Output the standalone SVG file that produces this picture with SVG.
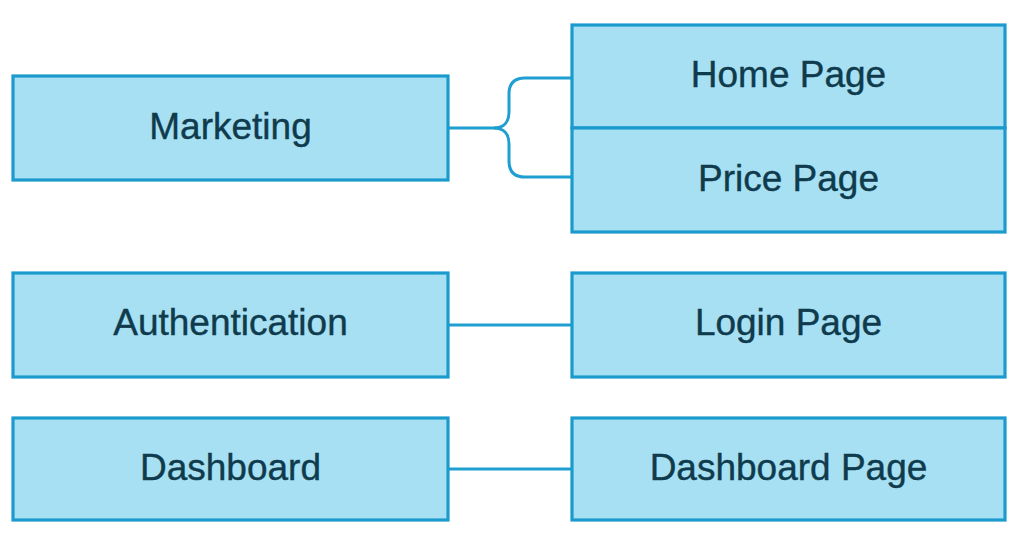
<svg xmlns="http://www.w3.org/2000/svg" width="1022" height="541" viewBox="0 0 1022 541">
  <style>
    .box { fill: #a7e0f3; stroke: #1b9bcd; stroke-width: 3.2; }
    .lbl { font-family: "Liberation Sans", Arial, sans-serif; font-size: 37px; fill: #0f3b4d; text-anchor: middle; stroke: #0f3b4d; stroke-width: 0.4; }
    .conn { fill: none; stroke: #1f9fd1; stroke-width: 3; }
  </style>
  <rect width="1022" height="541" fill="#ffffff"/>
  <g id="connectors">
    <path class="conn" d="M448,128 H494 C504,128 509,122 509,112 V94 C509,84 514,78 525,78 H572"/>
    <path class="conn" d="M494,128 C504,128 509,134 509,144 V161 C509,171 514,177 525,177 H572"/>
    <path class="conn" d="M448,325 H572"/>
    <path class="conn" d="M448,469 H572"/>
  </g>
  <g id="marketing">
    <rect class="box" x="13" y="76" width="435" height="104"/>
    <text class="lbl" x="230.5" y="139">Marketing</text>
  </g>
  <g id="authentication">
    <rect class="box" x="13" y="273" width="435" height="104"/>
    <text class="lbl" x="230.5" y="335">Authentication</text>
  </g>
  <g id="dashboard">
    <rect class="box" x="13" y="418" width="435" height="102"/>
    <text class="lbl" x="230.5" y="480">Dashboard</text>
  </g>
  <g id="home-page">
    <rect class="box" x="572" y="25" width="433" height="103"/>
    <text class="lbl" x="788.5" y="87">Home Page</text>
  </g>
  <g id="price-page">
    <rect class="box" x="572" y="128" width="433" height="104"/>
    <text class="lbl" x="788.5" y="191">Price Page</text>
  </g>
  <g id="login-page">
    <rect class="box" x="572" y="273" width="433" height="104"/>
    <text class="lbl" x="788.5" y="335">Login Page</text>
  </g>
  <g id="dashboard-page">
    <rect class="box" x="572" y="418" width="433" height="102"/>
    <text class="lbl" x="788.5" y="480">Dashboard Page</text>
  </g>
</svg>
